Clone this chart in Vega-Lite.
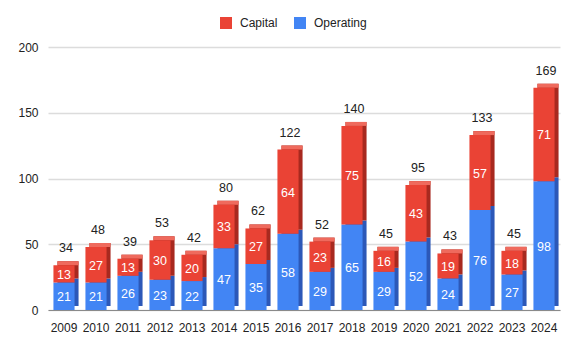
{
  "$schema": "https://vega.github.io/schema/vega-lite/v6.json",
  "width": 512,
  "height": 263,
  "autosize": {"type": "none"},
  "padding": {"left": 48, "top": 47, "right": 26, "bottom": 42},
  "background": "white",
  "config": {
    "view": {"stroke": null},
    "font": "Liberation Sans",
    "axis": {"labelFont": "Liberation Sans", "labelFontSize": 12, "labelColor": "#222222"},
    "legend": {"labelFont": "Liberation Sans", "labelFontSize": 12, "labelColor": "#222222"}
  },
  "data": {
    "values": [
      {"year": "2009", "type": "Operating", "value": 21}, {"year": "2009", "type": "Capital", "value": 13},
      {"year": "2010", "type": "Operating", "value": 21}, {"year": "2010", "type": "Capital", "value": 27},
      {"year": "2011", "type": "Operating", "value": 26}, {"year": "2011", "type": "Capital", "value": 13},
      {"year": "2012", "type": "Operating", "value": 23}, {"year": "2012", "type": "Capital", "value": 30},
      {"year": "2013", "type": "Operating", "value": 22}, {"year": "2013", "type": "Capital", "value": 20},
      {"year": "2014", "type": "Operating", "value": 47}, {"year": "2014", "type": "Capital", "value": 33},
      {"year": "2015", "type": "Operating", "value": 35}, {"year": "2015", "type": "Capital", "value": 27},
      {"year": "2016", "type": "Operating", "value": 58}, {"year": "2016", "type": "Capital", "value": 64},
      {"year": "2017", "type": "Operating", "value": 29}, {"year": "2017", "type": "Capital", "value": 23},
      {"year": "2018", "type": "Operating", "value": 65}, {"year": "2018", "type": "Capital", "value": 75},
      {"year": "2019", "type": "Operating", "value": 29}, {"year": "2019", "type": "Capital", "value": 16},
      {"year": "2020", "type": "Operating", "value": 52}, {"year": "2020", "type": "Capital", "value": 43},
      {"year": "2021", "type": "Operating", "value": 24}, {"year": "2021", "type": "Capital", "value": 19},
      {"year": "2022", "type": "Operating", "value": 76}, {"year": "2022", "type": "Capital", "value": 57},
      {"year": "2023", "type": "Operating", "value": 27}, {"year": "2023", "type": "Capital", "value": 18},
      {"year": "2024", "type": "Operating", "value": 98}, {"year": "2024", "type": "Capital", "value": 71}
    ]
  },
  "encoding": {
    "x": {
      "field": "year", "type": "ordinal", "title": null,
      "scale": {"paddingInner": 0.34, "paddingOuter": 0.17},
      "axis": {"labelAngle": 0, "ticks": false, "labelPadding": 12, "domainColor": "#8a8a8a", "domainWidth": 1, "grid": false}
    }
  },
  "resolve": {"scale": {"color": "independent"}, "legend": {"color": "independent"}},
  "layer": [
    {
      "mark": {"type": "bar", "xOffset": 4, "yOffset": -4, "y2Offset": -4, "width": {"band": 1}},
      "encoding": {
        "y": {"field": "value", "type": "quantitative", "stack": "zero", "scale": {"domain": [0, 200]},
          "title": null,
          "axis": {"values": [0, 50, 100, 150, 200], "ticks": false, "domain": false, "labelPadding": 10, "gridColor": "#dcdcdc", "gridWidth": 1.5}},
        "order": {"field": "type", "sort": "descending"},
        "color": {"field": "type", "type": "nominal", "legend": null,
          "scale": {"domain": ["Capital", "Operating"], "range": ["#a8291f", "#2c58b8"]}}
      }
    },
    {
      "transform": [{"aggregate": [{"op": "sum", "field": "value", "as": "total"}], "groupby": ["year"]}],
      "mark": {"type": "bar", "xOffset": 4, "yOffset": -4, "y2Offset": 0, "color": "#ef6a5d", "width": {"band": 1}},
      "encoding": {
        "y": {"field": "total", "type": "quantitative"},
        "y2": {"field": "total"}
      }
    },
    {
      "mark": {"type": "bar", "width": {"band": 1}},
      "encoding": {
        "y": {"field": "value", "type": "quantitative", "stack": "zero"},
        "order": {"field": "type", "sort": "descending"},
        "color": {"field": "type", "type": "nominal",
          "scale": {"domain": ["Capital", "Operating"], "range": ["#ea4335", "#4285f4"]},
          "legend": {"title": null, "orient": "none", "legendX": 172, "legendY": -30, "direction": "horizontal",
            "symbolType": "square", "symbolSize": 144, "symbolStrokeWidth": 0, "symbolOpacity": 1, "labelOffset": 8, "columnPadding": 16}}
      }
    },
    {
      "mark": {"type": "text", "color": "white", "fontSize": 12.5, "baseline": "middle", "dy": 1},
      "encoding": {
        "y": {"field": "value", "type": "quantitative", "stack": "zero", "bandPosition": 0.5},
        "order": {"field": "type", "sort": "descending"},
        "text": {"field": "value", "type": "quantitative"}
      }
    },
    {
      "transform": [{"aggregate": [{"op": "sum", "field": "value", "as": "total"}], "groupby": ["year"]}],
      "mark": {"type": "text", "color": "#222222", "fontSize": 12.5, "baseline": "middle", "dy": -17, "dx": 2},
      "encoding": {
        "y": {"field": "total", "type": "quantitative"},
        "text": {"field": "total", "type": "quantitative"}
      }
    }
  ]
}
